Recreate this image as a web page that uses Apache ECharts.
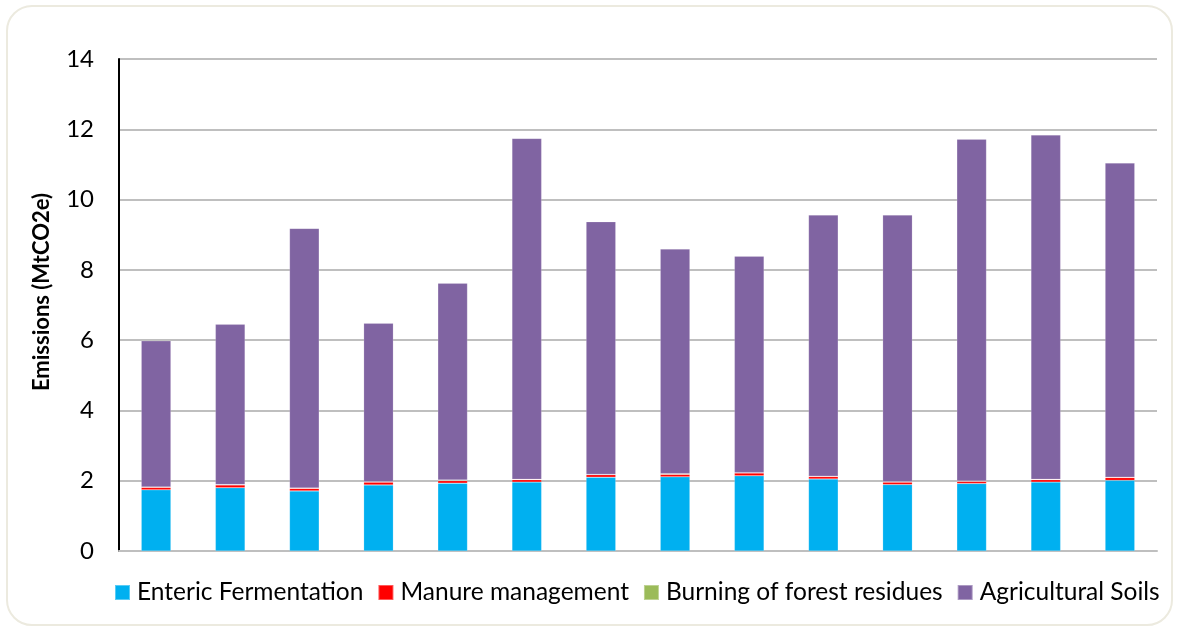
<!DOCTYPE html>
<html>
<head>
<meta charset="utf-8">
<script src="https://cdn.jsdelivr.net/npm/echarts@6/dist/echarts.min.js"></script>
<style>
  html, body { margin: 0; padding: 0; background: #ffffff; }
  #card { position: absolute; left: 6px; top: 5px; width: 1167px; height: 621px; border: 2px solid #eceadf; border-radius: 26px; background: #fff; box-sizing: border-box; }
  #chart { position: absolute; left: 0; top: 0; width: 1179px; height: 631px; }
</style>
</head>
<body>
<div id="card"></div>
<div id="chart"></div>
<script>
const categories = ['1','2','3','4','5','6','7','8','9','10','11','12','13','14'];
const entericFermentation = [1.74, 1.80, 1.71, 1.88, 1.93, 1.96, 2.10, 2.11, 2.14, 2.05, 1.89, 1.92, 1.96, 2.01];
const manureManagement = [0.07, 0.08, 0.07, 0.08, 0.07, 0.07, 0.07, 0.07, 0.08, 0.07, 0.07, 0.06, 0.07, 0.08];
const burningForestResidues = [0.01, 0.01, 0.01, 0.01, 0.02, 0.01, 0.01, 0.02, 0.01, 0.01, 0.01, 0.01, 0.01, 0.01];
const agriculturalSoils = [4.16, 4.56, 7.39, 4.51, 5.60, 9.70, 7.19, 6.39, 6.16, 7.43, 7.59, 9.73, 9.80, 8.94];
const yTicks = { min: 0, max: 14, interval: 2 };

const FONT = 'Lato';
const chart = echarts.init(document.getElementById('chart'), null, { renderer: 'canvas' });
const barStyle = (c) => ({ color: c, borderColor: 'rgba(255,255,255,0.35)', borderWidth: 0.5 });
const mk = (name, data, color) => ({
  name, type: 'bar', stack: 'total', data, barWidth: '40%',
  itemStyle: barStyle(color), emphasis: { disabled: true }
});
chart.setOption({
  animation: false,
  backgroundColor: 'transparent',
  textStyle: { fontFamily: FONT },
  grid: { left: 119, right: 22, top: 59, bottom: 80, containLabel: false },
  xAxis: {
    type: 'category', data: categories,
    axisLine: { show: true, lineStyle: { color: '#bfbfbf', width: 2 } },
    axisTick: { show: false }, axisLabel: { show: false }
  },
  yAxis: {
    type: 'value', min: yTicks.min, max: yTicks.max, interval: yTicks.interval,
    axisLine: { show: true, lineStyle: { color: '#000000', width: 2 } },
    axisTick: { show: false },
    axisLabel: { color: '#000', fontSize: 24, fontFamily: FONT, margin: 25 },
    splitLine: { lineStyle: { color: '#bfbfbf', width: 2 } }
  },
  legend: {
    left: 109, top: 575, itemWidth: 15, itemHeight: 15, itemGap: 14,
    icon: 'rect',
    textStyle: { color: '#000', fontSize: 24.5, fontFamily: FONT, padding: [0, 0, 0, 2] },
    data: ['Enteric Fermentation', 'Manure management', 'Burning of forest residues', 'Agricultural Soils']
  },
  graphic: [{
    type: 'text', x: 42, y: 292, rotation: Math.PI / 2,
    style: { text: 'Emissions (MtCO2e)', fill: '#000', font: 'bold 22px Lato', textAlign: 'center', textVerticalAlign: 'middle' }
  }],
  series: [
    mk('Enteric Fermentation', entericFermentation, '#00b0f0'),
    mk('Manure management', manureManagement, '#ff0000'),
    mk('Burning of forest residues', burningForestResidues, '#9bbb59'),
    mk('Agricultural Soils', agriculturalSoils, '#8064a2')
  ]
});
</script>
</body>
</html>
